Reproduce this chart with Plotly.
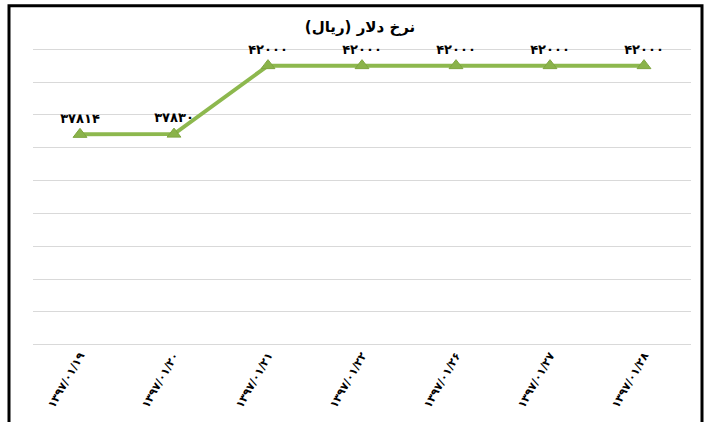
import plotly.graph_objects as go

categories = ["۱۳۹۷/۰۱/۱۹", "۱۳۹۷/۰۱/۲۰", "۱۳۹۷/۰۱/۲۱", "۱۳۹۷/۰۱/۲۲",
              "۱۳۹۷/۰۱/۲۶", "۱۳۹۷/۰۱/۲۷", "۱۳۹۷/۰۱/۲۸"]
values = [37814, 37830, 42000, 42000, 42000, 42000, 42000]
value_labels = ["۳۷۸۱۴", "۳۷۸۳۰", "۴۲۰۰۰", "۴۲۰۰۰", "۴۲۰۰۰", "۴۲۰۰۰", "۴۲۰۰۰"]
title_text = "نرخ دلار (ریال)"

W, H = 707, 422
# axis 25000..43000 spans pixel rows 49.5..345 ; pad range by 500 each side
y_lo, y_hi, pad = 25000, 43000, 500
ppu = (345 - 49.5) / (y_hi - y_lo)
L, R = 33, 16
T = 49.5 - pad * ppu
B = H - 345 - pad * ppu
pw = W - L - R
ph = H - T - B

def px2x(px):
    return (px - L) / pw

def py2y(py):
    return (H - B - py) / ph

green = "#8DB84E"

fig = go.Figure()
fig.add_trace(go.Scatter(
    x=categories, y=values, mode="lines+markers+text",
    line=dict(color=green, width=4),
    marker=dict(symbol="triangle-up", size=12, color="#8AB34A",
                line=dict(color="#7FA540", width=1)),
    text=value_labels, textposition="top center",
    textfont=dict(family="DejaVu Sans", size=13, color="black", weight="bold"),
    cliponaxis=False, hoverinfo="skip",
))

fig.update_layout(
    width=W, height=H,
    margin=dict(l=L, r=R, t=T, b=B, autoexpand=False),
    paper_bgcolor="white", plot_bgcolor="white",
    showlegend=False,
    title=dict(text="<b>" + title_text + "</b>", x=360 / W, xanchor="center",
               y=1 - 27 / H, yanchor="middle",
               font=dict(family="DejaVu Sans", size=15, color="black")),
    xaxis=dict(type="category", showgrid=False, zeroline=False, showline=False,
               ticks="", tickangle=-60, ticklabelstandoff=-7,
               tickfont=dict(family="DejaVu Sans", size=11, color="black", weight="bold"),
               range=[-0.5, 6.5]),
    yaxis=dict(range=[y_lo - pad, y_hi + pad], dtick=2000, tick0=25000, showgrid=True,
               gridcolor="#D9D9D9", gridwidth=1, zeroline=False,
               showticklabels=False, showline=False, ticks=""),
    shapes=[dict(type="rect", xref="paper", yref="paper",
                 x0=px2x(9), x1=px2x(702), y0=py2y(440), y1=py2y(6),
                 line=dict(color="black", width=3), fillcolor="rgba(0,0,0,0)",
                 layer="above")],
)

fig.write_html("out.html", config={"displayModeBar": False},
               post_script="document.body.style.margin='0';document.body.style.overflow='hidden';")
